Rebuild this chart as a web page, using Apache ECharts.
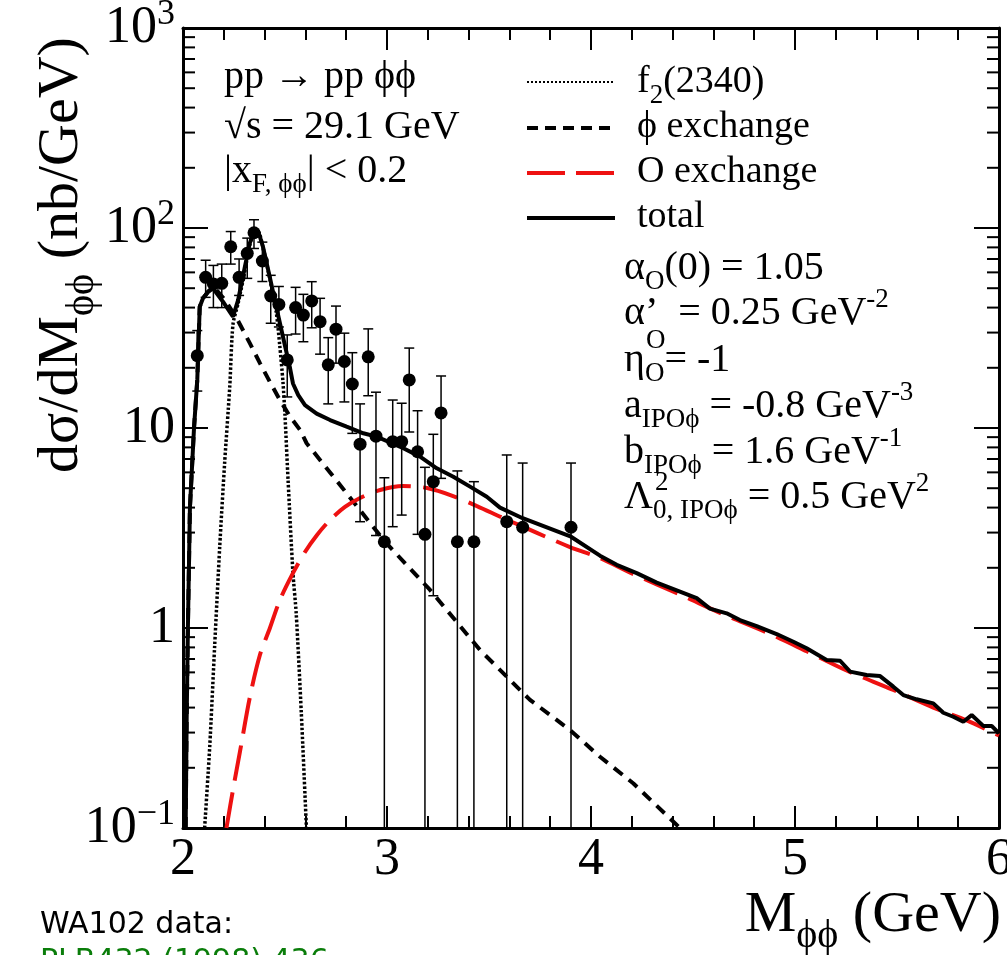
<!DOCTYPE html>
<html><head><meta charset="utf-8">
<script src="https://cdn.jsdelivr.net/npm/echarts@6/dist/echarts.min.js"></script>
<style>html,body{margin:0;padding:0;background:#fff;overflow:hidden;}#c{width:1007px;height:955px;}</style>
</head><body><div id="c"></div>
<script>
// ---------- data ----------
const xMin = 2, xMax = 6, yMin = 0.1, yMax = 1000;
const xTickValues = [2, 3, 4, 5, 6];
const yTickExponents = [-1, 0, 1, 2, 3];
const yTickLabels = ['10{sup|−1}', '1', '10', '10{sup|2}', '10{sup|3}'];
const yMinorTicks = [0.2,0.3,0.4,0.5,0.6,0.7,0.8,0.9,2,3,4,5,6,7,8,9,20,30,40,50,60,70,80,90,200,300,400,500,600,700,800,900];

// WA102 data points
const dataMass  = [2.070,2.111,2.149,2.190,2.234,2.275,2.315,2.348,2.389,2.430,2.470,2.511,2.552,2.590,2.631,2.672,2.712,2.750,2.791,2.830,2.868,2.908,2.946,2.987,3.028,3.072,3.109,3.150,3.186,3.227,3.265,3.345,3.426,3.587,3.665,3.902];
const dataSigma = [23.0,56.7,52.5,52.9,80.6,56.7,74.7,94.7,68.4,45.7,41.5,21.9,40.0,36.7,43.2,34.0,20.7,31.2,21.5,16.6,8.3,22.7,9.1,2.70,8.54,8.54,17.4,7.61,2.94,5.39,11.9,2.70,2.70,3.40,3.19,3.19];
const dataLow   = [15.3,45,40,40,66,46,56,79,54,33.4,32,14.3,29.5,27,31.7,23.4,13.2,21.1,13.5,9.4,3.4,14.5,2.9,0,3.21,3.67,9.55,2.94,0,1.45,5.6,0,0,0,0,0];
const dataHigh  = [30.7,69,65,66,96,70,89,110,85,58,51,29.2,50.5,46.6,53.9,44.5,28.3,40.7,29.8,23.8,13.2,31.3,15.1,5.64,13.8,13.3,25.1,12.2,6.36,9.3,18.2,6.1,5.39,7.33,6.68,6.68];

// total
const totalMass  = [2.013,2.018,2.024,2.034,2.054,2.070,2.082,2.098,2.123,2.147,2.196,2.245,2.270,2.302,2.327,2.348,2.368,2.392,2.425,2.457,2.490,2.523,2.539,2.565,2.598,2.655,2.721,2.802,2.884,2.949,3.080,3.162,3.244,3.325,3.407,3.489,3.554,3.665,3.902,4.044,4.126,4.224,4.322,4.436,4.518,4.583,4.665,4.730,4.812,4.910,4.992,5.057,5.155,5.221,5.270,5.351,5.417,5.482,5.531,5.596,5.678,5.727,5.776,5.825,5.866,5.923,5.964,6.0];
const totalSigma = [0.1,0.35,1.0,4.0,10,17.4,40.4,44.5,48.0,49.9,42.8,36.0,43.6,62.9,83.8,95.8,96.9,80.6,57.1,40.4,28.6,20.3,16.7,14.6,13.0,11.8,10.96,10.15,9.41,9.05,7.92,7.19,6.29,5.71,5.09,4.53,4.0,3.54,2.86,2.30,2.07,1.88,1.685,1.52,1.41,1.25,1.184,1.096,1.023,0.933,0.854,0.792,0.692,0.686,0.605,0.582,0.575,0.509,0.462,0.440,0.420,0.377,0.360,0.340,0.367,0.324,0.324,0.297];

// phi exchange
const phiMass  = [2.013,2.018,2.024,2.034,2.054,2.070,2.082,2.098,2.123,2.150,2.206,2.263,2.328,2.377,2.426,2.475,2.525,2.574,2.606,2.770,2.990,3.211,3.456,3.701,3.897,4.044,4.208,4.436];
const phiSigma = [0.1,0.35,1.0,4.0,10,17.4,40.4,44.5,48.0,51.0,43.6,35.4,26.5,21.1,17.0,13.8,11.4,9.77,8.39,5.19,2.70,1.55,0.776,0.437,0.309,0.227,0.167,0.1];

// O exchange
const pomMass  = [2.213,2.245,2.279,2.328,2.377,2.426,2.475,2.539,2.598,2.657,2.721,2.794,2.868,2.966,3.078,3.196,3.324,3.441,3.569,3.735,3.897,4.044,4.208,4.436,4.649,4.861,5.057,5.250,5.482,5.678,5.842,6.0];
const pomSigma = [0.1,0.155,0.240,0.452,0.733,1.0,1.38,1.88,2.40,2.92,3.47,4.03,4.47,4.90,5.13,5.01,4.57,4.07,3.55,2.99,2.54,2.24,1.86,1.47,1.17,0.95,0.765,0.615,0.49,0.40,0.345,0.29];

// f2(2340)
const f2Mass  = [2.106,2.131,2.155,2.180,2.204,2.229,2.245,2.270,2.302,2.327,2.348,2.368,2.392,2.425,2.457,2.474,2.490,2.500,2.515,2.539,2.555,2.580,2.605];
const f2Sigma = [0.1,0.255,0.806,2.55,6.66,16,33,42,60,82,95,96,80,56,38,26,17,11.5,5.5,1.88,1.18,0.375,0.1];

// ---------- styling ----------
const serif = "'Liberation Serif','Times New Roman',serif";
const RED = '#ee1111';
const pairs = (xs, ys) => xs.map((x, i) => [x, ys[i]]);

const richSmall = {
  sub: { font: "27px 'Liberation Serif'", fontSize: 27, fontFamily: serif, verticalAlign: 'bottom', fill: '#000' },
  sup: { font: "27px 'Liberation Serif'", fontSize: 27, fontFamily: serif, verticalAlign: 'top', fill: '#000' }
};
const richBig = {
  sub: { font: "40px 'Liberation Serif'", fontSize: 40, fontFamily: serif, verticalAlign: 'bottom', fill: '#000' }
};

function txt(x, y, text, extra) {
  return {
    type: 'text', x: x, y: y, z: 100, silent: true,
    style: Object.assign({
      text: text, fill: '#000', font: "40px 'Liberation Serif'", fontSize: 40, fontFamily: serif,
      lineHeight: 54, align: 'left', verticalAlign: 'middle', rich: richSmall
    }, extra || {})
  };
}
const legFont = { font: "38px 'Liberation Serif'", fontSize: 38 };
function legLine(y, stroke, width, dash) {
  return { type: 'line', z: 100, silent: true,
    shape: { x1: 527, y1: y, x2: 615, y2: y },
    style: { stroke: stroke, lineWidth: width, lineDash: dash } };
}

const chart = echarts.init(document.getElementById('c'), null, { renderer: 'canvas', width: 1007, height: 955 });

const axisLineStyle = { show: true, lineStyle: { color: '#000', width: 3 } };
const xCommon = {
  type: 'value', min: xMin, max: xMax, interval: 1,
  axisLine: axisLineStyle,
  axisTick: { show: true, inside: true, length: 22, lineStyle: { color: '#000', width: 2 } },
  minorTick: { show: true, splitNumber: 5, length: 12, lineStyle: { color: '#000', width: 2 } },
  splitLine: { show: false }, minorSplitLine: { show: false }
};
const yCommon = {
  type: 'log', logBase: 10, min: yMin, max: yMax,
  axisLine: axisLineStyle,
  axisTick: { show: true, inside: true, length: 25, lineStyle: { color: '#000', width: 2 } },
  splitLine: { show: false }
};

const option = {
  animation: false,
  backgroundColor: '#fff',
  grid: { left: 183, right: 8, top: 28, bottom: 127, containLabel: false, outerBoundsMode: 'none' },
  xAxis: [
    Object.assign({}, xCommon, {
      position: 'bottom',
      axisLabel: {
        show: true, color: '#000', fontFamily: serif, fontSize: 52, margin: 6,
        formatter: v => (xTickValues.indexOf(Math.round(v)) >= 0 ? String(Math.round(v)) : '')
      }
    }),
    Object.assign({}, xCommon, { position: 'top', axisLabel: { show: false } })
  ],
  yAxis: [
    Object.assign({}, yCommon, {
      position: 'left',
      axisLabel: {
        show: true, color: '#000', fontFamily: serif, fontSize: 52, margin: 8, lineHeight: 62,
        formatter: v => {
          const e = Math.round(Math.log10(v));
          const i = yTickExponents.indexOf(e);
          return i >= 0 ? yTickLabels[i] : '';
        },
        rich: { sup: { fontSize: 36, fontFamily: serif, color: '#000', verticalAlign: 'top' } }
      }
    }),
    Object.assign({}, yCommon, { position: 'right', axisLabel: { show: false } })
  ],
  series: [
    {
      name: 'f2(2340)', type: 'line', data: pairs(f2Mass, f2Sigma), symbol: 'none', smooth: 0.25,
      lineStyle: { color: '#000', width: 3.5, type: [2.5, 2] }, z: 2
    },
    {
      name: 'phi exchange', type: 'line', data: pairs(phiMass, phiSigma), symbol: 'none',
      lineStyle: { color: '#000', width: 4, type: [11, 8] }, z: 2
    },
    {
      name: 'O exchange', type: 'line', data: pairs(pomMass, pomSigma), symbol: 'none', smooth: 0.3,
      lineStyle: { color: RED, width: 4, type: [36, 12] }, z: 2
    },
    {
      name: 'total', type: 'line', data: pairs(totalMass, totalSigma), symbol: 'none',
      lineStyle: { color: '#000', width: 4 }, z: 3
    },
    {
      name: 'errors', type: 'custom', z: 4, silent: true,
      data: dataMass.map((m, i) => [m, dataSigma[i], dataLow[i], dataHigh[i]]),
      encode: { x: 0, y: 1 },
      renderItem: function (params, api) {
        const x = api.value(0), lo = api.value(2), hi = api.value(3);
        const top = api.coord([x, hi]);
        const loC = lo > yMin ? lo : yMin;
        const bot = api.coord([x, loC]);
        const st = { stroke: '#000', lineWidth: 1.5 };
        const cw = 5;
        const ch = [
          { type: 'line', shape: { x1: top[0], y1: top[1], x2: bot[0], y2: bot[1] }, style: st },
          { type: 'line', shape: { x1: top[0] - cw, y1: top[1], x2: top[0] + cw, y2: top[1] }, style: st }
        ];
        if (lo > yMin) ch.push({ type: 'line', shape: { x1: bot[0] - cw, y1: bot[1], x2: bot[0] + cw, y2: bot[1] }, style: st });
        return { type: 'group', children: ch };
      }
    },
    {
      name: 'WA102', type: 'scatter', z: 5, data: pairs(dataMass, dataSigma),
      symbol: 'circle', symbolSize: 13, itemStyle: { color: '#000', opacity: 1 }
    },
    {
      name: 'minorY', type: 'custom', z: 6, silent: true,
      data: yMinorTicks.map(v => [xMin, v]),
      encode: { x: 0, y: 1 },
      renderItem: function (params, api) {
        const v = api.value(1);
        const l = api.coord([xMin, v]);
        const r = api.coord([xMax, v]);
        const st = { stroke: '#000', lineWidth: 2 };
        return { type: 'group', children: [
          { type: 'line', shape: { x1: l[0], y1: l[1], x2: l[0] + 12, y2: l[1] }, style: st },
          { type: 'line', shape: { x1: r[0] - 12, y1: r[1], x2: r[0], y2: r[1] }, style: st }
        ] };
      }
    }
  ],
  graphic: [
    // axis titles
    txt(62, 255, 'dσ/dM{sub|ϕϕ} (nb/GeV)', {
      font: "58px 'Liberation Serif'", fontSize: 58, lineHeight: 80, align: 'center', rich: richBig
    }),
    txt(1001, 916, 'M{sub|ϕϕ} (GeV)', {
      font: "58px 'Liberation Serif'", fontSize: 58, lineHeight: 80, align: 'right', rich: richBig
    }),
    // process text
    txt(224, 77, 'pp → pp ϕϕ'),
    txt(224, 127, '√s = 29.1 GeV'),
    txt(224, 171, '|x{sub|F, ϕϕ}| < 0.2'),
    // legend
    legLine(82, '#000', 2, [2, 2]),
    legLine(128, '#000', 4, [11, 7]),
    legLine(173, RED, 4, [38, 11]),
    legLine(218, '#000', 4, null),
    txt(637, 82, 'f{sub|2}(2340)', legFont),
    txt(637, 127, 'ϕ exchange', legFont),
    txt(637, 172, 'O exchange', legFont),
    txt(637, 217, 'total', legFont),
    // parameters
    txt(624, 268, 'α{sub|O}(0) = 1.05'),
    txt(624, 313, 'α’  = 0.25 GeV{sup|-2}'),
    txt(624, 360, 'η{sub|O}= -1'),
    txt(646, 341, 'O', { font: "27px 'Liberation Serif'", fontSize: 27 }),
    txt(624, 406, 'a{sub|IPOϕ} = -0.8 GeV{sup|-3}'),
    txt(624, 452, 'b{sub|IPOϕ} = 1.6 GeV{sup|-1}'),
    txt(624, 497, 'Λ{sub|0, IPOϕ} = 0.5 GeV{sup|2}'),
    txt(655, 483, '2', { font: "27px 'Liberation Serif'", fontSize: 27 }),
    // bottom-left notes
    txt(40, 925, 'WA102 data:', { font: "30px 'DejaVu Sans'", fontSize: 30, fontFamily: "'DejaVu Sans',sans-serif" }),
    txt(40, 962, 'PLB432 (1998) 436', { font: "30px 'DejaVu Sans'", fontSize: 30, fontFamily: "'DejaVu Sans',sans-serif", fill: '#0a7d0a' })
  ]
};
option.graphic[0].rotation = Math.PI / 2;
chart.setOption(option);
</script></body></html>
